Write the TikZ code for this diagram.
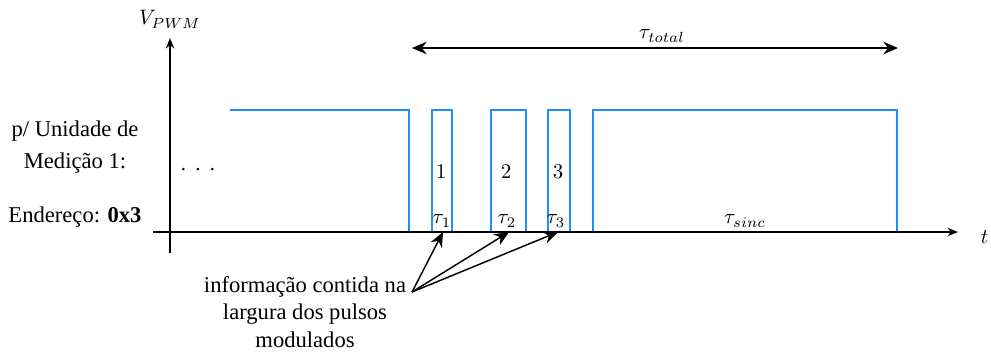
\documentclass[tikz,border=0pt]{standalone}
\usepackage[no-math]{fontspec}
\setmainfont{Liberation Serif}
\usepackage{amsmath}
\usetikzlibrary{arrows.meta}

\begin{document}
\begin{tikzpicture}[x=0.0168cm,y=-0.0168cm]
\useasboundingbox (0,0) rectangle (991,352);
\definecolor{pwmblue}{RGB}{30,144,255}
\tikzset{
  axis/.style={line width=0.8pt,-{Stealth[length=5pt,width=4pt]}},
  pwm/.style={pwmblue,line width=0.9pt},
  bigarrow/.style={line width=0.7pt,-{Stealth[length=7pt,width=6pt]}},
  txt/.style={font=\fontsize{10.8}{15.2}\selectfont},
}
%% Waveform
\draw[pwm] (230,110)--(409,110)--(409,232)
  --(432,232)--(432,110)--(452,110)--(452,232)
  --(491,232)--(491,110)--(526,110)--(526,232)
  --(548,232)--(548,110)--(570,110)--(570,232)
  --(593,232)--(593,110)--(897,110)--(897,232);
%% Axis
\draw[axis] (170,253)--(170,38) node[above=1pt] (vpwm) {$V_{PWM}$};
\draw[axis] (153,232)--(958,232);
\node[anchor=east,inner sep=0.5pt] (t) at (990,237) {$t$};
%% Pulse numbers and widths
\node (n1) at (441,172) {$1$};
\node (n2) at (506,172) {$2$};
\node (n3) at (558,172) {$3$};
\node (tau1) at (442,221) {$\tau_1$};
\node (tau2) at (507,221) {$\tau_2$};
\node (tau3) at (556,221) {$\tau_3$};
\node (tausinc) at (745,221) {$\tau_{sinc}$};
\node (dots) at (198,170) {.\hspace{4.4pt}.\hspace{4.4pt}.};
%% Total period
\coordinate (tl) at (412,48);
\coordinate (tr) at (898,48);
\draw[bigarrow,{Stealth[length=7pt,width=6pt]}-{Stealth[length=7pt,width=6pt]}] (tl)--(tr);
\node (tautotal) at (662,36) {$\tau_{total}$};
%% Left labels
\node[txt,align=center] (unid) at (75,147) {p/ Unidade de\\Medição 1:};
\node[txt] (ender) at (75,217) {Endereço: \textbf{0x3}};
%% Note on pulse widths
\node[txt,align=center,inner sep=1pt,font=\fontsize{10.8}{13.3}\selectfont] (info) at (305,312)
  {informação contida na\\largura dos pulsos\\modulados};
\coordinate (c1) at (443,232);
\coordinate (c2) at (509,232);
\coordinate (c3) at (558,232);
\foreach \c in {c1,c2,c3}
  \draw[bigarrow] (412,292)--(\c);
\end{tikzpicture}
\end{document}
